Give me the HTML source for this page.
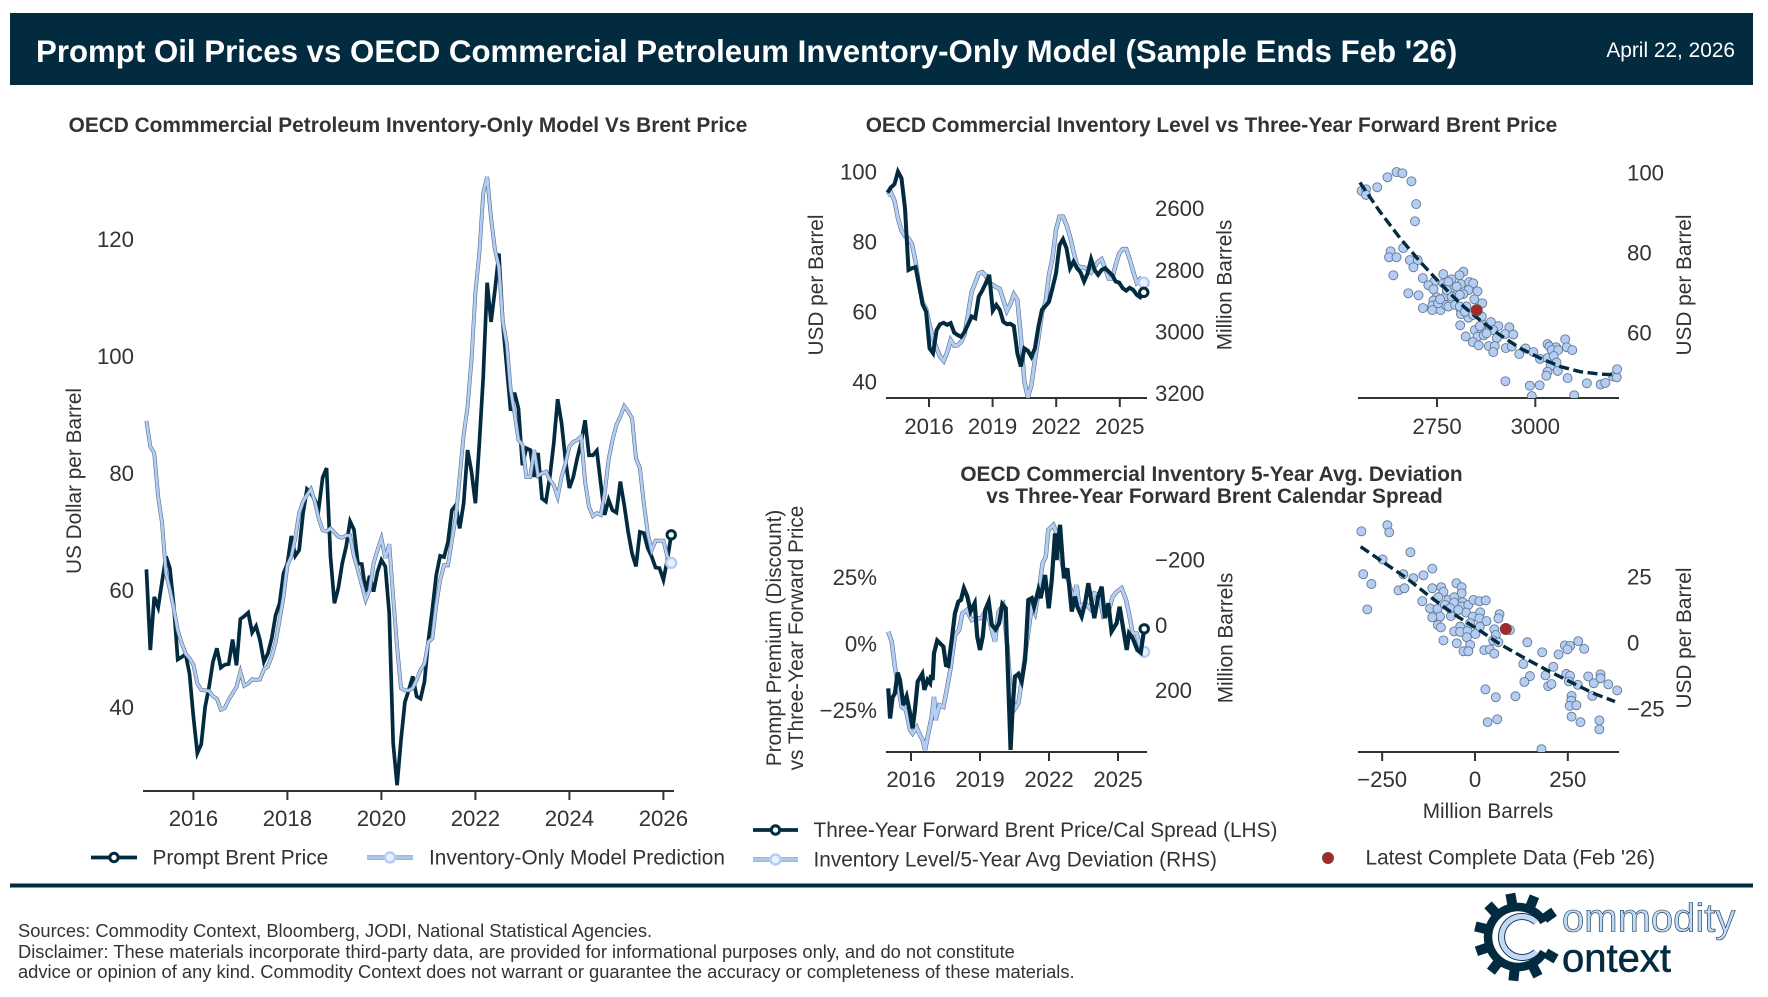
<!DOCTYPE html>
<html lang="en">
<head>
<meta charset="utf-8">
<title>Prompt Oil Prices vs OECD Commercial Petroleum Inventory-Only Model</title>
<style>
html,body{margin:0;padding:0;background:#fff;}
svg{display:block;font-family:"Liberation Sans",Arial,sans-serif;}
.tick{font-size:22.2px;fill:#333;}
.lab{font-size:20.8px;fill:#333;}
.ttl{font-size:20.85px;font-weight:bold;fill:#333;text-anchor:middle;}
.foot{font-size:18.32px;fill:#333;}
</style>
</head>
<body>
<svg id="page" xmlns="http://www.w3.org/2000/svg" width="1768" height="997" viewBox="0 0 1768 997">
  <defs>
    <clipPath id="clip-main"><rect x="143" y="150" width="531" height="641"/></clipPath>
    <clipPath id="clip-tl"><rect x="880" y="150" width="280" height="248"/></clipPath>
    <clipPath id="clip-tr"><rect x="1340" y="150" width="300" height="248"/></clipPath>
    <clipPath id="clip-bl"><rect x="880" y="520" width="280" height="232"/></clipPath>
    <clipPath id="clip-br"><rect x="1340" y="520" width="300" height="232"/></clipPath>
  </defs>
  <rect x="10" y="13" width="1743" height="72" fill="#032b40"/>
  <text x="36" y="62" font-size="31.22" font-weight="bold" fill="#fff">Prompt Oil Prices vs OECD Commercial Petroleum Inventory-Only Model (Sample Ends Feb '26)</text>
  <text x="1735" y="57" font-size="20.85" fill="#fff" text-anchor="end">April 22, 2026</text>

  <text class="ttl" x="408" y="132">OECD Commmercial Petroleum Inventory-Only Model Vs Brent Price</text>
  <text class="ttl" x="1211.5" y="132">OECD Commercial Inventory Level vs Three-Year Forward Brent Price</text>
  <text class="ttl" x="1211.5" y="481">OECD Commercial Inventory 5-Year Avg. Deviation</text>
  <text class="ttl" x="1214.5" y="503">vs Three-Year Forward Brent Calendar Spread</text>

  <text class="lab" text-anchor="middle" transform="translate(81 481) rotate(-90)">US Dollar per Barrel</text>
  <text class="lab" text-anchor="middle" transform="translate(823 285) rotate(-90)">USD per Barrel</text>
  <text class="lab" text-anchor="middle" transform="translate(1231.5 285) rotate(-90)">Million Barrels</text>
  <text class="lab" text-anchor="middle" transform="translate(1691 285) rotate(-90)">USD per Barrel</text>
  <text class="lab" text-anchor="middle" transform="translate(781 638) rotate(-90)">Prompt Premium (Discount)</text>
  <text class="lab" text-anchor="middle" transform="translate(803 638) rotate(-90)">vs Three-Year Forward Price</text>
  <text class="lab" text-anchor="middle" transform="translate(1232.5 638) rotate(-90)">Million Barrels</text>
  <text class="lab" text-anchor="middle" transform="translate(1691 638) rotate(-90)">USD per Barrel</text>
  <text class="lab" text-anchor="middle" x="1488" y="818">Million Barrels</text>

  <g id="main-chart"></g>
  <g id="top-line-chart"></g>
  <g id="top-scatter-chart"></g>
  <g id="bottom-line-chart"></g>
  <g id="bottom-scatter-chart"></g>
  <g id="legends"></g>

  <rect x="10" y="883.5" width="1743" height="4" fill="#032b40"/>
  <text class="foot" x="18" y="937">Sources: Commodity Context, Bloomberg, JODI, National Statistical Agencies.</text>
  <text class="foot" x="18" y="958">Disclaimer: These materials incorporate third-party data, are provided for informational purposes only, and do not constitute</text>
  <text class="foot" x="18" y="978">advice or opinion of any kind. Commodity Context does not warrant or guarantee the accuracy or completeness of these materials.</text>

  <g>
    <g transform="translate(3 0)">
      <path d="M1541 922 A30 30 0 1 0 1541 952" fill="none" stroke="#032b40" stroke-width="8.5"/>
      <g fill="#032b40">
        <rect x="1510" y="893" width="10" height="12" transform="rotate(55 1515 937)"/>
        <rect x="1510" y="893" width="10" height="12" transform="rotate(22 1515 937)"/>
        <rect x="1510" y="893" width="10" height="12" transform="rotate(-10 1515 937)"/>
        <rect x="1510" y="893" width="10" height="12" transform="rotate(-43 1515 937)"/>
        <rect x="1510" y="893" width="10" height="12" transform="rotate(-76 1515 937)"/>
        <rect x="1510" y="893" width="10" height="12" transform="rotate(-109 1515 937)"/>
        <rect x="1510" y="893" width="10" height="12" transform="rotate(-142 1515 937)"/>
        <rect x="1510" y="893" width="10" height="12" transform="rotate(-174 1515 937)"/>
        <rect x="1510" y="893" width="10" height="12" transform="rotate(153 1515 937)"/>
        <rect x="1510" y="893" width="10" height="12" transform="rotate(120 1515 937)"/>
      </g>
    </g>
    <path d="M1536 922 A20.5 20.5 0 1 0 1536 952" fill="none" stroke="#032b40" stroke-width="7"/>
    <path d="M1536 922 A20.5 20.5 0 1 0 1536 952" fill="none" stroke="#c3d8f7" stroke-width="5.2"/>
    <text x="1562" y="931.5" font-size="40" fill="#c3d8f7" stroke="#032b40" stroke-width="0.6">ommodity</text>
    <text x="1562" y="971.5" font-size="40" fill="#032b40" stroke="#032b40" stroke-width="0.6">ontext</text>
  </g>
</svg>
<script>
/* ---------- main chart data: monthly, Jan 2015 onward ---------- */
const mainStartYear = 2015;
const promptBrent = [63.7,49.9,59,57.2,61.6,65.9,63.9,57.4,48.3,48.7,49.2,45.9,38.5,32.3,33.8,40.2,43.6,47.9,50.2,46.9,47.4,47.5,51.7,47.3,55.2,55.7,56.3,52.9,54,51.6,47.9,49.3,51.9,55.9,57.9,63,64.7,69.4,66,67,73.3,77.4,76.7,75.6,74.1,79.4,81,65.9,57.9,60.5,64.7,67.6,71.9,70.5,64.7,64.6,59.9,62.6,59.9,63.3,65.3,64.2,56.2,34,26.8,34.5,41,43.1,45.4,42,41.6,44.5,51.6,56.8,62.7,66,65.8,68.4,73.8,74.7,70.7,75,84.1,80.4,75,85.2,96.6,112.7,106,111.5,117.7,105.8,98.3,90.8,93.9,91.2,81.5,84.4,84.1,79.5,83.6,75.8,75.3,79.5,85.2,92.8,88.7,82.4,77.6,79.5,82.7,85.4,89.2,83.2,83.2,84,78.4,73,75.6,73.8,73.4,78.7,74.7,70.1,66.4,64.2,70.1,69.9,67.3,65.9,64,63.9,61.9,65.3,69.6];
const modelPrediction = [89.1,84.7,83.6,76.1,71.6,63,60.2,57,53.3,51.1,49.3,48.5,47.4,44.2,43.1,43,42.9,42,41.6,39.7,40,41.4,42.5,43.6,46.2,43.8,44.2,44.9,44.8,44.9,46.6,47.1,48.8,51.3,55,59,64.4,65.9,69,73.3,75.3,76.4,77.4,75.3,72.4,70.4,70.2,70.7,70,69.3,69.1,69.5,69.5,65.9,63.6,61,58.5,60.2,64.7,67,69,65.6,68,59,50.5,43.4,43,43,43.4,44.8,46.5,47.6,51.3,51.9,57.6,61.9,64.4,64.4,68.7,72.7,79.5,86.7,91.5,99.5,111,117.7,128,130.8,123.7,118.3,115.4,106,102.3,94.4,90.4,85.8,85,79.5,79.5,84.1,79.7,80.1,80.4,79,78.1,76.1,79.5,81.8,84.7,85.5,85.8,86.4,78.7,74.4,72.8,73.3,73,76.7,82.4,85.8,88.4,89.8,91.6,90.7,89.5,82.7,81,75,69.9,67,68.6,68.6,68.6,65.9,64.8];
const mainXTicks = [2016,2018,2020,2022,2024,2026];
const mainYTicks = [40,60,80,100,120];

/* ---------- top line chart data ---------- */
const topStartYear = 2014.04;
const topEndYear = 2026.13;
const topForwardPrice = [94.2,95.7,96.6,100.2,98.3,89.7,72.1,72.6,72.9,67.8,62.3,60.2,49.7,48.3,54.9,56.6,57,56.4,56.9,54.2,53.5,53,54.5,56.6,58.8,58.3,64.5,66.2,68.3,70.7,60.5,62.1,60.7,57.3,56.6,56.7,56.1,48.3,44.5,49.7,49,47.3,49.7,55.9,60.7,61.8,63,66.9,71.1,79.2,80.9,78.3,72.6,74.5,72.6,71.4,68.8,71.1,75.2,72.1,70.7,72.1,72.6,71.6,70.7,68.8,68.5,66.9,66.2,67,66.4,65,64.3,65.7];
const topInventoryLevel = [2555,2547,2573,2630,2670,2688,2695,2714,2771,2846,2903,2924,2976,3022,3051,3079,3093,3065,3025,3043,3042,3031,3006,2938,2868,2839,2809,2805,2817,2841,2846,2854,2859,2895,2931,2909,2877,2895,3014,3160,3211,3171,3090,3019,2938,2903,2814,2760,2668,2625,2625,2652,2690,2738,2782,2789,2789,2798,2806,2787,2771,2763,2792,2825,2825,2782,2744,2730,2730,2763,2803,2839,2827,2839];
const topXTicks = [2016,2019,2022,2025];
const topLeftTicks = [40,60,80,100];
const topRightTicks = [2600,2800,3000,3200];

/* ---------- top scatter data ---------- */
const topScatterInventory = [2558.5,2569.5,2569.5,2598,2624,2647,2662,2685,2697,2694,2632,2628,2647,2664,2681,2701,2690,2639,2714,2766,2817,2807,2787,2743,2728,2766,2811,2832,2842,2797,2785,2830,2853,2741,2677,2703,2817,2772,2749,2741,2787,2845,2865,2714,2738,2738,2759,2772,2753,2779,2796,2811,2825,2811,2830,2842,2864,2809,2887,2906,2934,2868,2880,2846,2864,2893,2923,2944,2823,2853,2869,2902,2841,2856,2882,2897,2893,2925,2940,2959,2975,2995,3012,3031,3036,3053,3042,3058,3076,3080,3094,3031,3047,3054,3039,3031,3028,3057,3082,2924,2986,3011,2991,3099,3131,3166,3178,3198,3207,3208,2779,2800,2775,2808,2808,2821,2758,2859,2876];
const topScatterPrice = [95.6,96,94.6,96.5,99,100.3,100,98,92.3,88,80.5,79,79,81.3,78.3,78.3,76.5,74.5,73.8,74.8,75.4,74.5,73.5,72.9,72,72.5,72.3,72.8,72.5,71,71.3,70.8,70.5,71,70,69.5,69.8,69.3,69,68.2,69.2,68.5,67.5,66.3,66.9,65.8,65.8,67.1,67.5,66.7,67.1,65.8,66.7,64.8,63.9,64.6,64.2,62,62.8,61.8,61.5,62.1,60.7,60.8,60.8,60.8,59.8,59.7,59.2,59.2,59.5,58.8,57.8,57,56.8,56.8,55.3,56.3,56.7,54.8,56.2,55.3,53.6,57.3,56.7,56.5,55.8,55.8,58.5,56.5,55.8,53.8,54.3,52.7,51.9,50.4,49.4,50.6,48.8,48,46.9,47,44.3,44.5,47.5,47.2,47.6,49.2,49,51,72.9,71.7,70.8,69.6,66.7,65.4,68.5,61.8,60];
const topTrendInventory = [2554,2605,2656,2707,2758,2808,2859,2910,2961,3012,3063,3114,3164,3203];
const topTrendPrice = [97.7,90.4,83.8,77.9,72.5,67.5,63.3,59.6,56.3,53.8,51.7,50.4,49.8,49.6];
const topLatestInventory = [2851];
const topLatestPrice = [65.8];
const topScatterXTicks = [2750,3000];
const topScatterYTicks = [60,80,100];

/* ---------- bottom line chart data ---------- */
const spreadDates = [2015.01,2015.09,2015.2,2015.3,2015.42,2015.52,2015.67,2015.81,2015.93,2016.07,2016.17,2016.29,2016.49,2016.58,2016.72,2016.83,2016.87,2016.94,2017,2017.14,2017.26,2017.41,2017.52,2017.62,2017.77,2017.91,2018.06,2018.17,2018.3,2018.45,2018.59,2018.77,2018.88,2019,2019.12,2019.23,2019.38,2019.51,2019.68,2019.83,2019.97,2020.12,2020.19,2020.33,2020.42,2020.52,2020.67,2020.81,2020.96,2021.1,2021.25,2021.35,2021.54,2021.64,2021.83,2021.99,2022.12,2022.26,2022.33,2022.48,2022.65,2022.8,2022.99,2023.13,2023.23,2023.42,2023.57,2023.71,2023.97,2024.14,2024.29,2024.43,2024.58,2024.72,2024.94,2025.07,2025.38,2025.48,2025.64,2025.84,2025.99,2026.14];
const spreadValues = [-16.5,-27.8,-19.9,-18.4,-10.6,-13.4,-22.8,-19.6,-24.6,-31.5,-24.6,-14,-11.1,-17.1,-13.4,-14.6,-11.5,-13.4,-3.4,1.4,0.4,-0.9,-7.8,-8.1,1.6,11.6,16,16.6,21,17.9,12.3,15.4,2.9,-2.1,2.9,12.9,16,7.3,5.6,7.9,15.1,13.5,-4.6,-39.6,-23.4,-12.1,-11.1,-14,-5.9,16.6,17.3,14.1,20.4,17.3,26,13.5,24.1,41.6,31.6,44.8,24.8,28.5,12.3,17.9,14.1,10.4,15.4,22.9,9.8,17.9,21.6,9.8,15.4,4.8,7.9,14.1,-2.1,4.1,2.3,-2.1,-3.1,5.8];
const deviationDates = [2015.01,2015.16,2015.3,2015.45,2015.59,2015.78,2015.96,2016.07,2016.25,2016.39,2016.51,2016.61,2016.75,2016.9,2017,2017.07,2017.23,2017.41,2017.55,2017.72,2017.91,2018.09,2018.23,2018.42,2018.64,2018.86,2019.07,2019.29,2019.51,2019.65,2019.81,2020.01,2020.19,2020.33,2020.52,2020.67,2020.88,2021.03,2021.25,2021.39,2021.54,2021.72,2021.86,2021.97,2022.19,2022.33,2022.48,2022.62,2022.84,2023.06,2023.2,2023.32,2023.57,2023.78,2023.97,2024.19,2024.36,2024.54,2024.77,2024.94,2025.16,2025.35,2025.49,2025.64,2025.81,2025.96,2026.14];
const deviationValues = [18,49,126,187,249,259,320,331,312,336,351,382,331,279,218,290,244,249,198,131,29,13,-38,-48,-17,-23,-23,-53,13,49,-43,-63,64,198,254,238,136,54,-58,-38,-99,-191,-212,-294,-309,-284,-232,-171,-140,-79,-125,-58,-69,-53,-99,-94,-28,-33,-89,-104,-115,-79,-33,24,24,64,80];
const bottomXTicks = [2016,2019,2022,2025];
const bottomLeftTicks = [-25,0,25];
const bottomRightTicks = [-200,0,200];

/* ---------- bottom scatter data ---------- */
const bottomScatterDeviation = [-306,-236,-231,-174,-249,-301,-279,-290,-193,-166,-139,-115,-206,-190,-115,-91,-85,-99,-50,-36,-36,-142,-121,-101,-72,-56,-56,-33,-36,-18,-4,12,29,-94,-115,-65,-24,-6,14,12,31,66,63,-100,-92,-40,-56,-40,-20,13,1,52,94,-22,56,-85,-49,-13,49,63,-31,-18,25,40,52,141,181,130,225,242,256,249,278,294,211,148,190,133,197,206,246,256,253,277,305,320,338,338,359,383,316,28,56,109,260,259,255,273,34,60,260,284,335,335,179,-81,-67,-45,-13];
const bottomScatterSpread = [42.3,44.6,41.9,34.4,31.7,26.1,22.4,12.8,26.1,24.6,25.7,28.2,20,20.8,20.8,21.2,19.4,17.4,22.7,21.2,18.9,15.9,13.2,13,16.4,17.4,15.4,15.5,13.9,14.5,16.4,15.9,16.2,10.1,9.8,10.3,11.6,10.1,11.7,9.4,8.4,11,9.4,6.9,6,6.3,4.5,4.3,4.8,6.3,3.5,5.3,5,2.3,3.1,1.1,0,-0.6,1.1,0.4,-3,-3,-2.6,-2.3,-3.9,0.4,-3.4,-7.8,-4.2,-0.8,-1,-2.3,0.8,-2.1,-8.9,-12.4,-12.1,-14.6,-16.2,-15.4,-11.6,-12.3,-14.4,-15.7,-12.5,-15.1,-11.7,-13.2,-15.5,-17.8,-19.9,-17.4,-20.4,-20,-19.9,-21.7,-23.6,-23.4,-29.8,-28.7,-27.7,-29.8,-29.1,-32.5,-40,14.5,13.2,12.6,7.6];
const bottomTrendDeviation = [-308,-256,-184,-121,-58,13,67,130,193,256,319,377];
const bottomTrendSpread = [36.5,31.5,24.6,17.6,11.1,4.8,-0.3,-5.3,-10.1,-14.5,-18.9,-22];
const bottomLatestDeviation = [83];
const bottomLatestSpread = [5.4];
const bottomScatterXTicks = [-250,0,250];
const bottomScatterYTicks = [-25,0,25];

/* ---------- styling ---------- */
const NAVY = '#032b40';
const SKY = '#b3cdf4';
const SKY_EDGE = '#566f86';
const INK = '#333333';
const NS = 'http://www.w3.org/2000/svg';

function make(tag, parent, props) {
  const el = document.createElementNS(NS, tag);
  for (const k in props) el.setAttribute(k, props[k]);
  parent.appendChild(el);
  return el;
}
function pathOf(xs, ys, xf, yf) {
  return xs.map(function (x, i) {
    return (i ? 'L' : 'M') + xf(x).toFixed(2) + ' ' + yf(ys[i]).toFixed(2);
  }).join('');
}
function fmt(v) { return String(v).replace('-', '\u2212'); }

function axisX(g, left, right, y, ticks, xf, labelY, suffixName) {
  const spine = make('line', g, {x1: left, x2: right, y1: y, y2: y, stroke: INK, 'stroke-width': 2});
  
  
  ticks.forEach(function (t) {
    const mark = make('line', g, {x1: xf(t), x2: xf(t), y1: y, y2: y + 9, stroke: INK, 'stroke-width': 2});
    
    
    const label = make('text', g, {x: xf(t), y: labelY, 'text-anchor': 'middle', class: 'tick'});
    
    
    label.textContent = fmt(t);
  });
}
function axisY(g, x, anchor, ticks, yf, suffix, suffixName) {
  ticks.forEach(function (t) {
    const label = make('text', g, {x: x, y: yf(t) + 7.2, 'text-anchor': anchor, class: 'tick'});
    
    
    label.textContent = fmt(t) + suffix;
  });
}
function darkLine(g, xs, ys, xf, yf, clip, name, w) {
  const p = make('path', g, {d: pathOf(xs, ys, xf, yf), fill: 'none', stroke: NAVY, 'stroke-width': w, 'stroke-linejoin': 'miter', 'clip-path': 'url(#' + clip + ')'});
  
  
}
function skyLine(g, xs, ys, xf, yf, clip, name, w) {
  const under = make('path', g, {d: pathOf(xs, ys, xf, yf), fill: 'none', stroke: SKY_EDGE, 'stroke-width': w, 'clip-path': 'url(#' + clip + ')'});
  
  
  const core = make('path', g, {d: pathOf(xs, ys, xf, yf), fill: 'none', stroke: SKY, 'stroke-width': w - 1.2, 'clip-path': 'url(#' + clip + ')'});
  
  
}
function darkEnd(g, x, y, name) {
  const c = make('circle', g, {cx: x, cy: y, r: 4.2, fill: '#fff', stroke: NAVY, 'stroke-width': 3});
  
  
}
function skyEnd(g, x, y, name) {
  const c = make('circle', g, {cx: x, cy: y, r: 5, fill: '#e9f2ff', stroke: SKY, 'stroke-width': 2.4});
  
  
}
function scatter(g, xs, ys, xf, yf, clip, name) {
  xs.forEach(function (x, i) {
    const c = make('circle', g, {cx: xf(x), cy: yf(ys[i]), r: 4.5, fill: SKY, stroke: '#65788c', 'stroke-width': 0.9, 'clip-path': 'url(#' + clip + ')'});
    
    
  });
}
function trend(g, xs, ys, xf, yf, name) {
  const p = make('path', g, {d: pathOf(xs, ys, xf, yf), fill: 'none', stroke: NAVY, 'stroke-width': 3.4, 'stroke-dasharray': '10 4.5'});
  
  
}
function latest(g, x, y, name) {
  const c = make('circle', g, {cx: x, cy: y, r: 5.6, fill: '#a42a2a', stroke: '#6d4a4a', 'stroke-width': 0.8});
  
  
}

/* ---------- main chart ---------- */
(function () {
  const g = document.getElementById('main-chart');
  const xf = function (t) { return 193.4 + (t - 2016) * 47; };
  const yf = function (v) { return 708 - (v - 40) * 5.85; };
  const times = promptBrent.map(function (_, i) { return mainStartYear + i / 12; });
  axisX(g, 143, 674, 791, mainXTicks, xf, 826, 'main');
  axisY(g, 134, 'end', mainYTicks, yf, '', 'main');
  darkLine(g, times, promptBrent, xf, yf, 'clip-main', 'prompt-brent-line', 3.7);
  skyLine(g, times, modelPrediction, xf, yf, 'clip-main', 'model-prediction-line', 3.9);
  const n = times.length - 1;
  darkEnd(g, xf(times[n]), yf(promptBrent[n]), 'prompt-brent-end-marker');
  skyEnd(g, xf(times[n]), yf(modelPrediction[n]), 'model-prediction-end-marker');
})();

/* ---------- top line chart ---------- */
(function () {
  const g = document.getElementById('top-line-chart');
  const xf = function (t) { return 929 + (t - 2016) * 21.2; };
  const yl = function (v) { return 172.3 + (100 - v) * 3.5; };
  const yr = function (v) { return 209 + (v - 2600) * 0.30833; };
  const times = topForwardPrice.map(function (_, i) { return topStartYear + i * (topEndYear - topStartYear) / (topForwardPrice.length - 1); });
  axisX(g, 886, 1147, 398, topXTicks, xf, 434, 'top-line');
  axisY(g, 877, 'end', topLeftTicks, yl, '', 'top-line-left');
  axisY(g, 1155, 'start', topRightTicks, yr, '', 'top-line-right');
  skyLine(g, times, topInventoryLevel, xf, yr, 'clip-tl', 'inventory-level-line', 4.4);
  const n = times.length - 1;
  skyEnd(g, xf(times[n]), yr(topInventoryLevel[n]), 'inventory-level-end-marker');
  darkLine(g, times, topForwardPrice, xf, yl, 'clip-tl', 'forward-price-line', 4);
  darkEnd(g, xf(times[n]), yl(topForwardPrice[n]), 'forward-price-end-marker');
})();

/* ---------- top scatter ---------- */
(function () {
  const g = document.getElementById('top-scatter-chart');
  const xf = function (v) { return 1437 + (v - 2750) * 0.3933; };
  const yf = function (v) { return 173.3 + (100 - v) * 4; };
  axisX(g, 1358, 1619, 398, topScatterXTicks, xf, 434, 'top-scatter');
  axisY(g, 1627, 'start', topScatterYTicks, yf, '', 'top-scatter');
  scatter(g, topScatterInventory, topScatterPrice, xf, yf, 'clip-tr', 'inventory-price-point');
  trend(g, topTrendInventory, topTrendPrice, xf, yf, 'inventory-price-trend-line');
  latest(g, xf(topLatestInventory[0]), yf(topLatestPrice[0]), 'inventory-price-latest-point');
})();

/* ---------- bottom line chart ---------- */
(function () {
  const g = document.getElementById('bottom-line-chart');
  const xf = function (t) { return 911 + (t - 2016) * 23; };
  const yl = function (v) { return 644.3 - v * 2.667; };
  const yr = function (v) { return 625.7 + v * 0.3258; };
  axisX(g, 886, 1147, 752, bottomXTicks, xf, 787, 'bottom-line');
  axisY(g, 877, 'end', bottomLeftTicks, yl, '%', 'bottom-line-left');
  axisY(g, 1155, 'start', bottomRightTicks, yr, '', 'bottom-line-right');
  skyLine(g, deviationDates, deviationValues, xf, yr, 'clip-bl', 'inventory-deviation-line', 4.4);
  const a = deviationDates.length - 1;
  skyEnd(g, xf(deviationDates[a]), yr(deviationValues[a]), 'inventory-deviation-end-marker');
  darkLine(g, spreadDates, spreadValues, xf, yl, 'clip-bl', 'calendar-spread-line', 4.2);
  const b = spreadDates.length - 1;
  darkEnd(g, xf(spreadDates[b]), yl(spreadValues[b]), 'calendar-spread-end-marker');
})();

/* ---------- bottom scatter ---------- */
(function () {
  const g = document.getElementById('bottom-scatter-chart');
  const xf = function (v) { return 1475 + v * 0.3713; };
  const yf = function (v) { return 643.3 - v * 2.647; };
  axisX(g, 1358, 1619, 752, bottomScatterXTicks, xf, 787, 'bottom-scatter');
  axisY(g, 1627, 'start', bottomScatterYTicks, yf, '', 'bottom-scatter');
  scatter(g, bottomScatterDeviation, bottomScatterSpread, xf, yf, 'clip-br', 'deviation-spread-point');
  trend(g, bottomTrendDeviation, bottomTrendSpread, xf, yf, 'deviation-spread-trend-line');
  latest(g, xf(bottomLatestDeviation[0]), yf(bottomLatestSpread[0]), 'deviation-spread-latest-point');
})();

/* ---------- legends ---------- */
(function () {
  const g = document.getElementById('legends');
  function entry(x1, x2, y, dark, label, textX, name) {
    const mid = (x1 + x2) / 2;
    const px = function (v) { return v; };
    const py = function () { return y; };
    if (dark) {
      darkLine(g, [x1, x2], [0, 0], px, py, 'clip-all', name + '-line', 3.7);
      darkEnd(g, mid, y, name + '-marker');
    } else {
      skyLine(g, [x1, x2], [0, 0], px, py, 'clip-all', name + '-line', 3.9);
      skyEnd(g, mid, y, name + '-marker');
    }
    const t = make('text', g, {x: textX, y: y + 7, class: 'lab'});
    
    
    t.textContent = label;
  }
  const defs = document.querySelector('svg defs');
  const cp = make('clipPath', defs, {id: 'clip-all'});
  make('rect', cp, {x: 0, y: 0, width: 1768, height: 997, fill: 'none'});
  entry(91, 137, 857.5, true, 'Prompt Brent Price', 152.5, 'legend-prompt-brent');
  entry(367, 413, 857.5, false, 'Inventory-Only Model Prediction', 429, 'legend-model-prediction');
  entry(753, 798, 830, true, 'Three-Year Forward Brent Price/Cal Spread (LHS)', 813.5, 'legend-forward-spread');
  entry(753, 798, 859.5, false, 'Inventory Level/5-Year Avg Deviation (RHS)', 813.5, 'legend-inventory-deviation');
  latest(g, 1328, 858, 'legend-latest-data-marker');
  const t = make('text', g, {x: 1365.5, y: 864.5, class: 'lab'});
  
  
  t.textContent = "Latest Complete Data (Feb '26)";
})();
</script>
</body>
</html>
